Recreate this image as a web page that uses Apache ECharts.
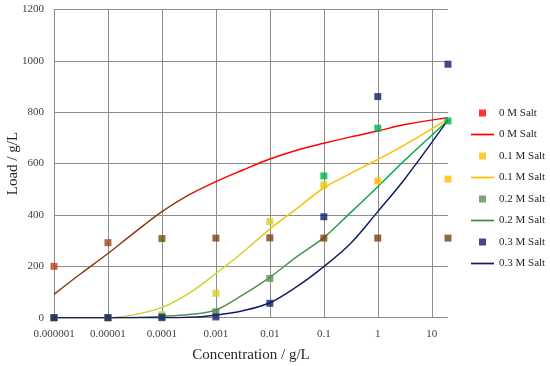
<!DOCTYPE html>
<html>
<head>
<meta charset="utf-8">
<script src="https://cdn.jsdelivr.net/npm/echarts@6/dist/echarts.min.js"></script>
<style>html,body{margin:0;padding:0;background:#fff;}#chart{width:550px;height:366px;}</style>
</head>
<body>
<div id="chart"></div>
<script>
// Measured points (concentration g/L -> load g/L)
const concentrations = [0.000001, 0.00001, 0.0001, 0.001, 0.01, 0.1, 1, 20];
const load0M  = [200, 292, 308, 310, 311, 310, 310, 310];
const load01M = [0, 0, 12, 95, 374, 517, 532, 540];
const load02M = [0, 0, 5, 23, 153, 552, 738, 766];
const load03M = [0, 0, 0, 3, 56, 393, 861, 987];

// Fitted curves
const fitConc = [0.000001, 0.00000316, 0.00001, 0.0000316, 0.0001, 0.000316, 0.001, 0.00316, 0.01, 0.0316, 0.1, 0.316, 1, 3.16, 20];
const fit0M  = [91, 172, 250, 333, 413, 478, 530, 575, 618, 652, 679, 704, 727, 752, 779];
const fit01M = [0, 0, 0, 12, 40, 95, 172, 255, 345, 425, 505, 562, 616, 673, 773];
const fit02M = [0, 0, 0, 1, 5, 12, 30, 89, 157, 238, 312, 410, 510, 613, 768];
const fit03M = [0, 0, 0, 0, 0, 2, 10, 27, 58, 121, 199, 290, 413, 540, 770];

const seriesNames = ['0 M Salt', '0.1 M Salt', '0.2 M Salt', '0.3 M Salt'];

// Styles (kept apart from data)
const pointColors = [
  ['#C23A1C', '#9A4418', '#6E5012', '#7B4012', '#7B4012', '#7B3F12', '#7B3F12', '#6B4A10'],
  ['#FFC000', '#FFC000', '#B8E060', '#D8D020', '#D4D020', '#E8C810', '#FFC000', '#FFC000'],
  ['#5B8F50', '#5B8F50', '#5B8F50', '#4E8A4E', '#5A8F5A', '#00B050', '#00B050', '#00B050'],
  ['#14206A', '#14206A', '#14206A', '#14206A', '#14206A', '#14206A', '#0F2060', '#0F2060']
];
const legendPointColors = ['#FF0000', '#FFC000', '#5B8F50', '#1A1A6A'];
const legendLineColors = ['#FF0000', '#FFC000', '#3D8A45', '#1A1A6A'];
const lineGradients = [
  [[0, '#8B3A12'], [0.3, '#8B3A12'], [0.4, '#FF0000'], [1, '#FF0000']],
  [[0, '#D0D030'], [0.5, '#D0D030'], [0.62, '#FFC000'], [1, '#FFC000']],
  [[0, '#5A8F5A'], [0.65, '#4E9050'], [0.85, '#00A850'], [1, '#00B050']],
  [[0, '#1A1A6A'], [1, '#0F2060']]
];

const loads = [load0M, load01M, load02M, load03M];
const fits = [fit0M, fit01M, fit02M, fit03M];

const chart = echarts.init(document.getElementById('chart'));
const FONT = 'Liberation Serif';

const series = [];
const legendData = [];
for (let s = 0; s < 4; s++) {
  series.push({
    name: seriesNames[s] + ' fit',
    type: 'line',
    symbol: 'none',
    smooth: 0.35,
    z: 2 + s * 0.1,
    lineStyle: {
      width: 1.5,
      color: new echarts.graphic.LinearGradient(0, 0, 1, 0,
        lineGradients[s].map(st => ({offset: st[0], color: st[1]})))
    },
    data: fitConc.map((c, i) => [c, fits[s][i]])
  });
}
for (let s = 0; s < 4; s++) {
  series.push({
    name: seriesNames[s],
    type: 'scatter',
    symbol: 'rect',
    symbolSize: 7,
    z: 5 + s * 0.1,
    itemStyle: {color: legendPointColors[s]},
    data: concentrations.map((c, i) => ({
      value: [c, loads[s][i]],
      itemStyle: {color: pointColors[s][i]}
    }))
  });
}
for (let s = 0; s < 4; s++) {
  legendData.push({name: seriesNames[s], icon: 'path://M0,0H10V10H0Z', itemStyle: {color: legendPointColors[s]}});
  legendData.push({name: seriesNames[s] + ' fit', icon: 'path://M0,0H20V1.5H0Z',
    itemStyle: {color: legendLineColors[s], borderWidth: 0},
    lineStyle: {color: legendLineColors[s], width: 1.5}});
}

chart.setOption({
  animation: false,
  backgroundColor: '#ffffff',
  grid: {left: 54, right: 102, top: 9.5, bottom: 48.3, containLabel: false, outerBoundsMode: 'none'},
  legend: {
    orient: 'vertical',
    left: 471,
    top: 106,
    padding: 0,
    itemWidth: 23,
    itemHeight: 7,
    itemGap: 7.5,
    symbolKeepAspect: true,
    data: legendData,
    formatter: n => n.replace(/ fit$/, ''),
    textStyle: {fontFamily: FONT, fontSize: 11, color: '#262626', lineHeight: 14}
  },
  xAxis: {
    type: 'log',
    logBase: 10,
    min: 0.000001,
    max: 20,
    interval: 1,
    name: 'Concentration / g/L',
    nameLocation: 'middle',
    nameGap: 30,
    nameMoveOverlap: false,
    nameTextStyle: {fontFamily: FONT, fontSize: 15, color: '#262626'},
    axisLine: {show: false},
    axisTick: {show: false},
    axisLabel: {
      fontFamily: FONT, fontSize: 11, color: '#404040', margin: 11,
      showMaxLabel: false,
      formatter: v => {
        const e = Math.round(Math.log10(v));
        return e < 0 ? Number(v).toFixed(-e) : String(Math.round(v));
      }
    },
    splitLine: {show: true, showMaxLine: false, lineStyle: {color: '#8C8C8C', width: 1}}
  },
  yAxis: {
    type: 'value',
    min: 0,
    max: 1200,
    interval: 200,
    name: 'Load / g/L',
    nameLocation: 'middle',
    nameGap: 33,
    nameMoveOverlap: false,
    nameTextStyle: {fontFamily: FONT, fontSize: 15, color: '#262626'},
    axisLine: {show: false},
    axisTick: {show: false},
    axisLabel: {fontFamily: FONT, fontSize: 11, color: '#404040', margin: 10,
      formatter: v => String(v)},
    splitLine: {show: true, lineStyle: {color: '#8C8C8C', width: 1}}
  },
  series: series
});
</script>
</body>
</html>
